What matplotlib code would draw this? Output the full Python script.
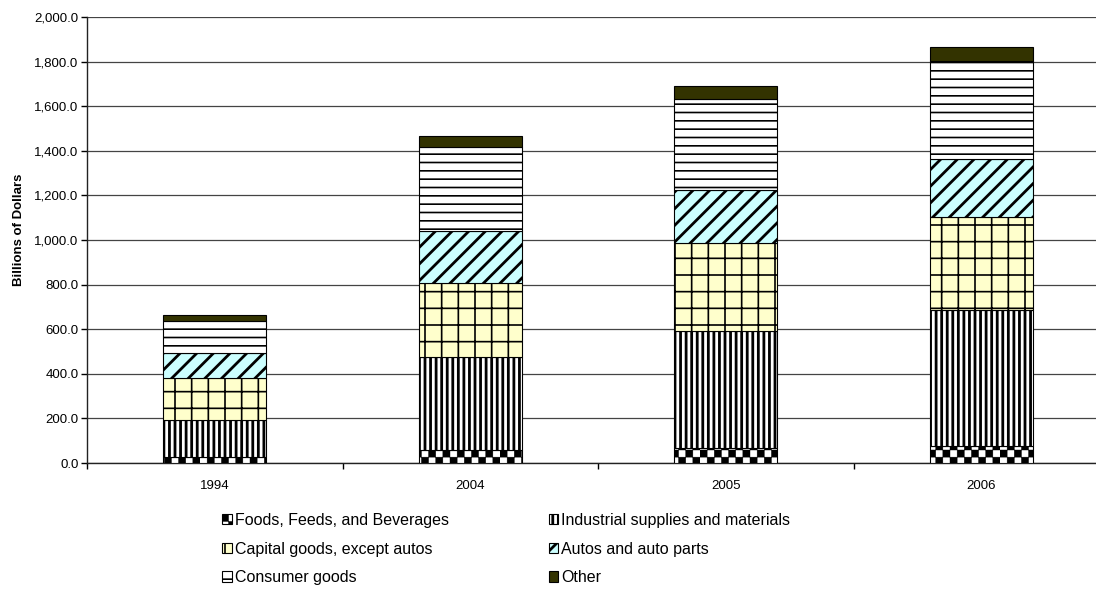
import numpy as np
import matplotlib
matplotlib.use("Agg")
import matplotlib as mpl
import matplotlib.pyplot as plt
import matplotlib.hatch as mhatch
from matplotlib.path import Path
from matplotlib.ticker import FuncFormatter, FixedLocator

# ---------------- data ----------------
years = ["1994", "2004", "2005", "2006"]
foods = [26, 60, 67, 76]
industrial = [167, 414, 526, 610]
capital = [187, 332, 395, 419]
autos = [112, 234, 236, 257]
consumer = [146, 378, 407, 442]
other = [25, 50, 59, 60]

series_names = ["Foods, Feeds, and Beverages", "Industrial supplies and materials",
                "Capital goods, except autos", "Autos and auto parts",
                "Consumer goods", "Other"]
series_values = [foods, industrial, capital, autos, consumer, other]


# ---------------- checkerboard hatch (replaces the '.' pattern) ----------------
class CheckerHatch(mhatch.HatchPatternBase):
    def __init__(self, hatch, density):
        self.n = 7 if '.' in hatch else 0
        self.num_vertices = self.n * self.n * 2 * 5

    def set_vertices_and_codes(self, vertices, codes):
        n = self.n
        s = 1.0 / n
        h = s / 2.0
        k = 0
        for i in range(n):
            for j in range(n):
                for (ox, oy) in ((i * s, j * s), (i * s + h, j * s + h)):
                    vertices[k:k + 5] = [(ox, oy), (ox + h, oy), (ox + h, oy + h),
                                         (ox, oy + h), (ox, oy)]
                    codes[k:k + 5] = [Path.MOVETO, Path.LINETO, Path.LINETO,
                                      Path.LINETO, Path.CLOSEPOLY]
                    k += 5


mhatch._hatch_types = [t for t in mhatch._hatch_types
                       if t is not mhatch.SmallFilledCircles] + [CheckerHatch]

# ---------------- styles ----------------
faces = ["white", "white", "#FFFFCC", "#CCFFFF", "white", "#333300"]
hatches = [".", "|||", "+", "//", "--", None]
hatch_lws = [0.3, 2.0, 1.2, 2.0, 1.2, 1.0]

mpl.rcParams["font.family"] = ["Liberation Sans", "DejaVu Sans"]

fig = plt.figure(figsize=(10.96, 5.93), dpi=100)
ax = fig.add_axes([0.0794, 0.2192, 0.9325, 0.7521])

x = np.arange(len(years))
width = 0.403
bottom = np.zeros(len(years))
containers = []
for name, vals, fc, hp, hlw in zip(series_names, series_values, faces, hatches, hatch_lws):
    mpl.rcParams["hatch.linewidth"] = hlw
    bars = ax.bar(x, vals, width, bottom=bottom, color=fc, edgecolor="black",
                  linewidth=0.8, hatch=hp, label=name, zorder=3)
    for p in bars:
        if hasattr(p, "set_hatch_linewidth"):
            p.set_hatch_linewidth(hlw)
    containers.append(bars)
    bottom = bottom + np.array(vals)

ax.set_xlim(-0.5, len(years) - 0.5)
ax.set_ylim(0, 2000)
ax.set_yticks(np.arange(0, 2001, 200))
ax.yaxis.set_major_formatter(FuncFormatter(lambda v, p: f"{v:,.1f}"))
ax.set_xticks(x)
ax.set_xticklabels(years)
ax.xaxis.set_minor_locator(FixedLocator(np.arange(-0.5, len(years), 1.0)))
ax.tick_params(axis="x", which="major", length=0, pad=12, labelsize=9.5)
ax.tick_params(axis="x", which="minor", length=4, width=1, direction="out")
ax.tick_params(axis="y", length=4, width=1, direction="out", pad=2, labelsize=9.5)
ax.grid(axis="y", color="#444444", linewidth=0.9, zorder=0)
ax.set_axisbelow(True)
for s in ["top", "right"]:
    ax.spines[s].set_visible(False)
for s in ["left", "bottom"]:
    ax.spines[s].set_linewidth(1.0)
    ax.spines[s].set_color("#222222")

fig.text(0.017, (593 - 230) / 593, "Billions of Dollars", rotation=90, fontsize=9.5,
         fontweight="bold", ha="center", va="center")

# legend filled row by row (2 columns)
order = [0, 2, 4, 1, 3, 5]
leg = ax.legend([containers[i] for i in order], [series_names[i] for i in order],
                loc="upper left", bbox_to_anchor=(222 / 1096, 1 - 513 / 593),
                bbox_transform=fig.transFigure, ncol=2, frameon=False, fontsize=11.5,
                handlelength=0.6, handleheight=0.6, handletextpad=0.2,
                columnspacing=6.25, labelspacing=0.85, borderpad=0, borderaxespad=0)
for p, i in zip(leg.get_patches(), order):
    if hasattr(p, "set_hatch_linewidth"):
        p.set_hatch_linewidth(hatch_lws[i])

fig.savefig("out.png", dpi=100)
